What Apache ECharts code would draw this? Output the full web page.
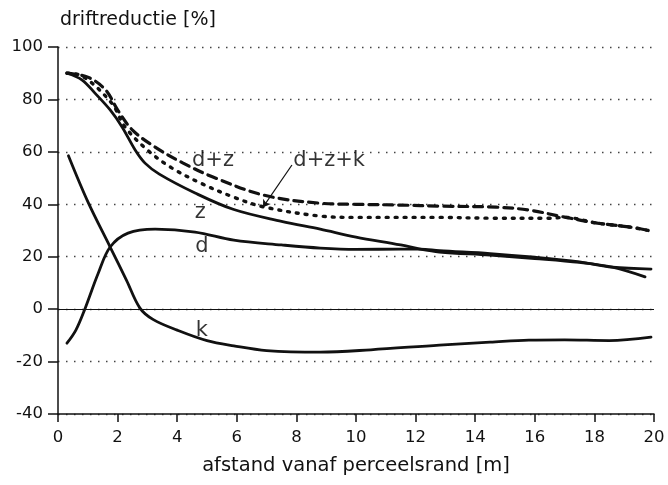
<!DOCTYPE html>
<html>
<head>
<meta charset="utf-8">
<script src="https://cdn.jsdelivr.net/npm/echarts@6/dist/echarts.min.js"></script>
<style type="text/css">
html, body{margin: 0; padding: 0; background: #fff}
#chart{width: 668px; height: 485px}
</style>
</head>
<body>
<div id="chart"></div>
<script type="text/javascript">
// afstand (m) en driftreductie (%) per curve
var kX = [0.35, 1.0, 1.75, 2.3, 2.75, 3.2, 4.0, 5.0, 5.9, 7.0, 8.8, 10.5, 12.8, 14.5, 15.8, 17.0, 18.5, 19.9];
var kY = [58.5, 41, 23.7, 11, 0.4, -4, -8, -12, -14, -15.8, -16.4, -15.5, -13.7, -12.6, -11.8, -11.7, -12, -10.7];

var dX = [0.3, 0.6, 0.9, 1.35, 1.75, 2.35, 3.26, 4.6, 5.9, 7.5, 8.8, 10, 11.5, 12.15, 12.8, 14.5, 16, 17.5, 18.6, 19.9];
var dY = [-13, -8, 0, 13.7, 23.7, 29, 30.5, 29.4, 26.3, 24.5, 23.3, 22.8, 22.9, 22.9, 22.3, 21.2, 19.8, 18, 16, 15.3];

var zX = [0.3, 0.8, 1.24, 1.75, 2.15, 2.6, 2.92, 3.4, 4.6, 5.9, 7.5, 8.8, 10, 11.5, 12.15, 12.8, 14.5, 16, 17.5, 18.6, 19.7];
var zY = [90, 87.5, 82.4, 76, 69.5, 60.5, 55.7, 51.5, 44.3, 38, 33.5, 30.5, 27.5, 24.5, 22.9, 21.8, 20.6, 19.3, 17.8, 16, 12.3];

var dzX = [0.3, 1.0, 1.6, 2.0, 2.5, 3.26, 4.2, 5.2, 6.9, 8.8, 10, 11.5, 12.8, 14.7, 15.8, 17, 18.1, 19.2, 19.9];
var dzY = [90, 88.5, 83.6, 76, 68.3, 61.8, 55.7, 50.4, 43.5, 40.4, 40, 39.7, 39.3, 38.9, 37.8, 35.1, 32.8, 31.3, 29.8];

var dzkX = [0.3, 0.8, 1.8, 2.25, 3.0, 3.8, 4.8, 5.9, 6.9, 8.8, 10, 12.8, 14.5, 16.5, 17, 18.1, 19.2, 19.9];
var dzkY = [90, 89, 78.6, 69.5, 60.7, 54, 48, 42.7, 39, 35.5, 35, 35, 34.7, 34.7, 35.0, 32.8, 31.3, 29.8];

var yTicks = [-40, -20, 0, 20, 40, 60, 80, 100];
var xTicks = [0, 2, 4, 6, 8, 10, 12, 14, 16, 18, 20];

// labels in de grafiek: [x, y, tekst]
var curveLabels = [[5.2, 56.5, 'd+z'], [9.1, 56.5, 'd+z+k'], [4.77, 37, 'z'], [4.83, 23.7, 'd'], [4.83, -8, 'k']];
var arrowFrom = [7.85, 55];
var arrowTo = [6.88, 38.9];

function pairs(xs, ys) {
    return xs.map(function (x, i) { return [x, ys[i]]; });
}

var chart = echarts.init(document.getElementById('chart'));
var font = 'DejaVu Sans, sans-serif';
var ink = '#111';

function curve(name, xs, ys, type, width) {
    return {
        name: name,
        type: 'line',
        data: pairs(xs, ys),
        smooth: 0.35,
        showSymbol: false,
        silent: true,
        lineStyle: {color: ink, width: width, type: type, cap: 'round'}
    };
}

var series = [
    curve('k', kX, kY, 'solid', 2.8),
    curve('d', dX, dY, 'solid', 2.8),
    curve('z', zX, zY, 'solid', 2.8),
    curve('d+z', dzX, dzY, [9, 6], 3.2),
    curve('d+z+k', dzkX, dzkY, [2, 7], 3.4)
];

// nullijn en pijl
series[0].markLine = {
    silent: true,
    symbol: 'none',
    label: {show: false},
    lineStyle: {color: ink, width: 1, type: 'solid'},
    data: [{yAxis: 0}]
};
series[4].markLine = {
    silent: true,
    symbol: ['none', 'arrow'],
    symbolSize: 7,
    label: {show: false},
    lineStyle: {color: ink, width: 1.2, type: 'solid'},
    data: [[{coord: arrowFrom}, {coord: arrowTo}]]
};
series.push({
    type: 'scatter',
    silent: true,
    symbolSize: 0,
    data: curveLabels.map(function (l) { return {value: [l[0], l[1]], name: l[2]}; }),
    label: {
        show: true,
        position: 'inside',
        formatter: '{b}',
        color: '#000',
        fontFamily: font,
        fontSize: 21
    }
});

var option = {
    animation: false,
    backgroundColor: '#fff',
    title: {
        text: 'driftreductie [%]',
        left: 60,
        top: 11,
        padding: 0,
        textStyle: {color: ink, fontFamily: font, fontSize: 19, fontWeight: 'normal'}
    },
    grid: {left: 58, right: 14, top: 47, bottom: 71, containLabel: false},
    xAxis: {
        type: 'value',
        min: 0,
        max: 20,
        interval: 2,
        name: 'afstand vanaf perceelsrand [m]',
        nameLocation: 'middle',
        nameGap: 42,
        nameTextStyle: {color: ink, fontFamily: font, fontSize: 19.5},
        axisLine: {show: true, onZero: false, lineStyle: {color: ink, width: 1.5}},
        axisTick: {show: true, length: 8, lineStyle: {color: ink, width: 1.5}},
        axisLabel: {color: ink, fontFamily: font, fontSize: 16.5, margin: 15,
            formatter: function (v) { return xTicks.indexOf(v) >= 0 ? v : ''; }},
        splitLine: {show: false}
    },
    yAxis: {
        type: 'value',
        min: -40,
        max: 100,
        interval: 20,
        axisLine: {show: true, onZero: false, lineStyle: {color: ink, width: 1.5}},
        axisTick: {show: true, length: 10, lineStyle: {color: ink, width: 1.5}},
        axisLabel: {color: ink, fontFamily: font, fontSize: 16.5, margin: 15,
            formatter: function (v) { return yTicks.indexOf(v) >= 0 ? v : ''; }},
        splitLine: {show: true, lineStyle: {color: '#444', width: 1.3, type: [1.5, 6.5]}}
    },
    series: series
};
chart.setOption(option);
</script>
</body>
</html>
